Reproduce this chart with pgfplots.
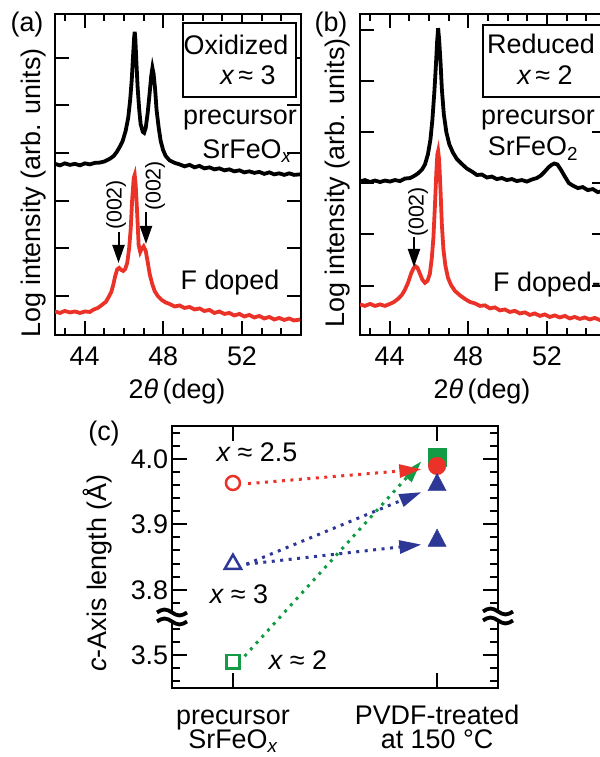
\documentclass[border=0pt]{standalone}
\usepackage{fontspec}
\setmainfont{Liberation Sans}
\usepackage{pgfplots}
\pgfplotsset{compat=1.18}
\usetikzlibrary{arrows.meta}
\definecolor{cred}{RGB}{235,50,40}
\definecolor{cblue}{RGB}{45,55,150}
\definecolor{cgreen}{RGB}{20,155,70}
\newcommand\fs{\fontsize{27}{31}\selectfont}
\newcommand\fss{\fontsize{21.5}{25}\selectfont}
\pgfplotsset{
  xrd/.style={
    scale only axis, width=246bp, height=321bp, anchor=south west,
    xmin=42.5, xmax=55,
    xtick={44,48,52}, xticklabels={44,48,52},
    minor xtick={43,45,46,47,49,50,51,53,54},
    ytick={0,1,2,3,4,5}, yticklabels={},
    major tick length=14bp, minor tick length=7bp,
    every tick/.style={line width=2bp, black},
    axis line style={line width=2.3bp},
    tick label style={font=\fs},
    xticklabel style={yshift=-8bp},
    /pgf/number format/assume math mode=true,
  },
}
\newcommand\brk[2]{%
  \fill[white] (#1-16,#2-4.5) rectangle (#1+16,#2+4.5);
  \draw[line width=3.8bp] (#1-15,#2-4.5) sin (#1-7.5,#2-7.5) cos (#1,#2-4.5) sin (#1+7.5,#2-1.5) cos (#1+15,#2-4.5);
  \draw[line width=3.8bp] (#1-15,#2+4.5) sin (#1-7.5,#2+1.5) cos (#1,#2+4.5) sin (#1+7.5,#2+7.5) cos (#1+15,#2+4.5);
}
\begin{document}
\begin{tikzpicture}
\useasboundingbox (0,0) rectangle (600bp,757bp);
% ---------------- (a) oxidized
\begin{axis}[xrd, at={(55bp,422bp)}, ymin=-0.82, ymax=5.92]
\addplot[black, line width=3.8bp] coordinates {
(42.5,2.773)(42.75,2.742)(43.0,2.784)(43.26,2.752)(43.51,2.773)(43.77,2.742)(44.02,2.784)(44.27,2.763)(44.53,2.794)(44.78,2.80)(45.03,2.826)(45.28,2.878)(45.49,2.941)(45.64,3.025)(45.79,3.13)(45.94,3.256)(46.09,3.466)(46.22,3.74)(46.32,4.118)(46.40,4.538)(46.47,5.063)(46.52,5.42)(46.55,5.546)(46.58,5.42)(46.63,4.958)(46.70,4.37)(46.78,3.908)(46.85,3.613)(46.96,3.445)(47.03,3.424)(47.11,3.529)(47.21,3.845)(47.31,4.265)(47.39,4.622)(47.45,4.79)(47.51,4.664)(47.59,4.328)(47.66,3.908)(47.77,3.529)(47.87,3.256)(47.99,3.067)(48.12,2.941)(48.32,2.847)(48.58,2.794)(48.83,2.763)(49.08,2.721)(49.34,2.752)(49.59,2.70)(49.84,2.731)(50.09,2.679)(50.35,2.70)(50.6,2.658)(50.85,2.679)(51.11,2.637)(51.36,2.658)(51.61,2.616)(51.87,2.637)(52.12,2.595)(52.37,2.616)(52.63,2.584)(52.88,2.605)(53.13,2.563)(53.39,2.595)(53.64,2.553)(53.89,2.574)(54.15,2.542)(54.4,2.574)(54.65,2.542)(54.96,2.553)};
\addplot[cred, line width=3.8bp] coordinates {
(42.5,-0.326)(42.75,-0.357)(43.0,-0.315)(43.26,-0.347)(43.51,-0.326)(43.77,-0.357)(44.02,-0.326)(44.27,-0.336)(44.47,-0.284)(44.68,-0.252)(44.88,-0.189)(45.08,-0.126)(45.23,-0.021)(45.36,0.084)(45.46,0.231)(45.56,0.42)(45.66,0.557)(45.76,0.588)(45.87,0.546)(45.97,0.525)(46.07,0.567)(46.17,0.693)(46.27,1.008)(46.35,1.429)(46.42,2.017)(46.5,2.479)(46.55,2.542)(46.6,2.332)(46.68,1.702)(46.75,1.071)(46.83,0.924)(46.9,0.987)(47.0,1.04)(47.11,0.945)(47.21,0.714)(47.31,0.462)(47.44,0.252)(47.56,0.105)(47.72,0.0)(47.92,-0.084)(48.12,-0.137)(48.32,-0.168)(48.58,-0.221)(48.83,-0.2)(49.08,-0.252)(49.34,-0.231)(49.59,-0.284)(49.84,-0.263)(50.09,-0.315)(50.35,-0.294)(50.6,-0.357)(50.85,-0.326)(51.11,-0.378)(51.36,-0.357)(51.61,-0.41)(51.87,-0.378)(52.12,-0.431)(52.37,-0.399)(52.63,-0.452)(52.88,-0.42)(53.13,-0.473)(53.39,-0.441)(53.64,-0.494)(53.89,-0.462)(54.15,-0.504)(54.4,-0.473)(54.65,-0.515)(54.96,-0.494)};
\end{axis}
% ---------------- (b) reduced
\begin{axis}[xrd, at={(360bp,422bp)}, ymin=-0.967, ymax=5.31]
\addplot[black, line width=3.8bp] coordinates {
(42.5,2.033)(42.75,2.063)(43.01,2.024)(43.26,2.053)(43.52,2.024)(43.77,2.053)(44.02,2.033)(44.28,2.063)(44.53,2.043)(44.78,2.092)(45.04,2.102)(45.24,2.141)(45.44,2.19)(45.65,2.269)(45.8,2.367)(45.95,2.563)(46.08,2.857)(46.18,3.249)(46.28,3.798)(46.36,4.327)(46.42,4.778)(46.47,5.033)(46.52,4.818)(46.59,4.386)(46.66,3.837)(46.76,3.347)(46.89,2.994)(47.04,2.759)(47.22,2.602)(47.42,2.475)(47.68,2.376)(47.93,2.288)(48.19,2.229)(48.44,2.161)(48.69,2.171)(48.95,2.112)(49.2,2.131)(49.45,2.082)(49.71,2.102)(49.96,2.063)(50.22,2.082)(50.47,2.043)(50.72,2.063)(50.98,2.033)(51.23,2.073)(51.48,2.102)(51.69,2.151)(51.89,2.229)(52.07,2.308)(52.22,2.357)(52.37,2.386)(52.53,2.367)(52.7,2.269)(52.91,2.131)(53.11,2.004)(53.31,1.955)(53.57,1.906)(53.82,1.925)(54.07,1.867)(54.33,1.886)(54.58,1.827)(54.83,1.847)(54.99,1.818)};
\addplot[cred, line width=3.8bp] coordinates {
(42.5,-0.369)(42.75,-0.398)(43.01,-0.359)(43.26,-0.398)(43.52,-0.369)(43.77,-0.398)(44.02,-0.359)(44.23,-0.32)(44.43,-0.261)(44.63,-0.182)(44.78,-0.084)(44.94,0.053)(45.09,0.229)(45.22,0.337)(45.32,0.376)(45.42,0.347)(45.55,0.229)(45.67,0.112)(45.8,0.053)(45.93,0.092)(46.05,0.229)(46.15,0.543)(46.23,0.935)(46.31,1.582)(46.38,2.229)(46.43,2.563)(46.47,2.631)(46.52,2.465)(46.59,1.876)(46.66,1.19)(46.74,0.7)(46.84,0.386)(46.97,0.151)(47.12,0.014)(47.32,-0.104)(47.58,-0.192)(47.83,-0.261)(48.08,-0.32)(48.34,-0.349)(48.59,-0.398)(48.85,-0.388)(49.1,-0.447)(49.35,-0.427)(49.61,-0.486)(49.86,-0.467)(50.11,-0.516)(50.37,-0.496)(50.62,-0.545)(50.88,-0.525)(51.13,-0.575)(51.38,-0.545)(51.64,-0.594)(51.89,-0.565)(52.14,-0.614)(52.4,-0.584)(52.65,-0.624)(52.91,-0.594)(53.16,-0.643)(53.41,-0.614)(53.67,-0.653)(53.92,-0.624)(54.17,-0.663)(54.43,-0.633)(54.68,-0.673)(54.99,-0.653)};
\end{axis}
% ---------------- (c) c-axis length
\begin{axis}[scale only axis, width=326.6bp, height=262bp, at={(171.7bp,69bp)}, anchor=south west,
  xmin=-0.3, xmax=1.3, ymin=3.65, ymax=4.05,
  xtick={0,1},
  xticklabels={{\vphantom{Pd}precursor\\SrFeO\textsubscript{\itshape x}},{\vphantom{Pd}PVDF-treated\\at 150 °C}},
  xticklabel style={align=center, font=\fontsize{27}{25}\selectfont, yshift=-13bp},
  ytick={3.7,3.8,3.9,4.0}, yticklabels={3.5,3.8,3.9,4.0},
  minor ytick={3.66,3.68,3.72,3.74,3.76,3.78,3.82,3.84,3.86,3.88,3.92,3.94,3.96,3.98,4.02,4.04},
  major tick length=15bp, minor tick length=8bp,
  every tick/.style={line width=2bp, black},
  axis line style={line width=2.3bp},
  tick label style={font=\fs},
  y filter/.expression={y<3.6 ? y+0.2 : y},
  clip=false]
% arrows (dotted)
\addplot[cgreen, line width=3bp, dash pattern=on 3bp off 5.5bp, -{Triangle[length=22bp,width=13bp]}] coordinates {(0.057,3.4985)(0.923,3.996)};
\addplot[cblue, line width=3bp, dash pattern=on 3bp off 5.5bp, -{Triangle[length=22bp,width=13bp]}] coordinates {(0.066,3.839)(0.923,3.949)};
\addplot[cblue, line width=3bp, dash pattern=on 3bp off 5.5bp, -{Triangle[length=22bp,width=13bp]}] coordinates {(0.066,3.839)(0.923,3.869)};
\addplot[cred, line width=3bp, dash pattern=on 3bp off 5.5bp, -{Triangle[length=22bp,width=13bp]}] coordinates {(0.074,3.962)(0.923,3.984)};
% markers
\addplot[only marks, mark=square*, mark size=9bp, cgreen] coordinates {(1,4.002)};
\addplot[only marks, mark=*, mark size=8.8bp, cred] coordinates {(1,3.989)};
\addplot[only marks, mark=triangle*, mark size=10.5bp, cblue, mark options={yscale=1.1}] coordinates {(1,3.960)(1,3.875)};
\addplot[only marks, mark=o, mark size=7bp, cred, line width=2.5bp, mark options={fill=white}] coordinates {(0,3.963)};
\addplot[only marks, mark=triangle, mark size=9.5bp, cblue, line width=2.5bp, mark options={fill=white}] coordinates {(0,3.839)};
\addplot[only marks, mark=square, mark size=6.6bp, cgreen, line width=2.5bp, mark options={fill=white}] coordinates {(0,3.49)};
\end{axis}
% ---------------- annotations (pixel coordinates, y downward)
\begin{scope}[shift={(0bp,757bp)}, x=1bp, y=-1bp, font=\fs]
\node at (27,25) {(a)};
\node at (331,25) {(b)};
\node at (104,434) {(c)};
\node[rotate=90] at (34,193) {Log intensity (arb. units)};
\node[rotate=90] at (338,183) {Log intensity (arb. units)};
\node at (177,392) {2{\itshape θ}\,(deg)};
\node at (482,392) {2{\itshape θ}\,(deg)};
\node[rotate=90] at (98,573) {{\itshape c}-Axis length (Å)};
% (a)
\draw[line width=2bp, fill=white] (183,23) rectangle (296,97);
\node[anchor=base] at (236,55) {Oxidized};
\node[anchor=base] at (248,85) {{\itshape x}\,≈ 3};
\node[anchor=base] at (240,125) {precursor};
\node[anchor=base] at (247,159) {SrFeO\textsubscript{\itshape x}};
\node[anchor=base] at (230,290) {F doped};
\node[rotate=90, font=\fss] at (116,205) {(002)};
\node[rotate=90, font=\fss] at (155,186) {(002)};
\draw[line width=2bp, -{Triangle[length=18bp,width=12bp]}] (118.5,232) -- (118.5,263);
\draw[line width=2bp, -{Triangle[length=18bp,width=12bp]}] (146,212) -- (146,244);
% (b)
\draw[line width=2bp, fill=white] (483,25) rectangle (620,97);
\node[anchor=base] at (541,54) {Reduced};
\node[anchor=base] at (545,85) {{\itshape x}\,≈ 2};
\node[anchor=base] at (538,125) {precursor};
\node[anchor=base] at (533,156) {SrFeO\textsubscript{2}};
\node[anchor=base west, inner sep=0pt] at (493,292) {F doped-};
\node[rotate=90, font=\fss] at (418,212) {(002)};
\draw[line width=2bp, -{Triangle[length=18bp,width=12bp]}] (414,237) -- (414,267);
% (c)
\node at (257,452) {{\itshape x} ≈ 2.5};
\node at (239,594) {{\itshape x} ≈ 3};
\node at (298,660) {{\itshape x} ≈ 2};
\brk{172}{617}
\brk{498}{616}
\end{scope}
\end{tikzpicture}
\end{document}
